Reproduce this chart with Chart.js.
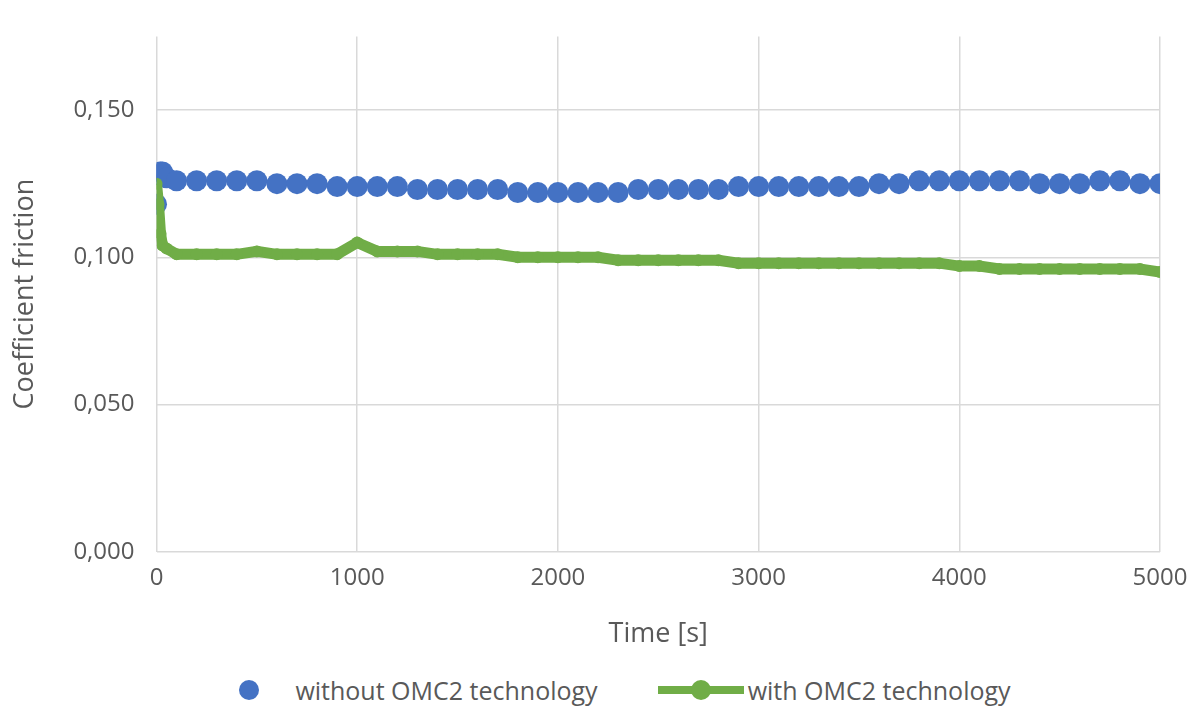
<!DOCTYPE html>
<html><head><meta charset="utf-8">
<script src="https://cdn.jsdelivr.net/npm/chart.js@4"></script>
<style>
body{margin:0;background:#fff;font-family:"Open Sans",sans-serif;color:#595959}
#wrap{width:1200px;height:655px;position:relative}
#legend{position:absolute;top:673px;left:0;width:1200px;display:flex;justify-content:center;font-size:25px;gap:60px;padding-left:20px}
.item{display:flex;align-items:center;gap:14px}
</style></head><body>
<div id="wrap"><canvas id="c"></canvas></div>
<div id="legend">
<div class="item" style="gap:26px"><svg width="40" height="24"><circle cx="20" cy="12" r="10" fill="#4472C4"/></svg>without OMC2 technology</div>
<div class="item" style="gap:4px"><svg width="86" height="24"><line x1="0" y1="12" x2="86" y2="12" stroke="#70AD47" stroke-width="8"/><circle cx="43" cy="12" r="10" fill="#70AD47"/></svg>with OMC2 technology</div>
</div>
<script>
const timesA = [0,10,20,30,50,100,200,300,400,500,600,700,800,900,1000,1100,1200,1300,1400,1500,1600,1700,1800,1900,2000,2100,2200,2300,2400,2500,2600,2700,2800,2900,3000,3100,3200,3300,3400,3500,3600,3700,3800,3900,4000,4100,4200,4300,4400,4500,4600,4700,4800,4900,5000];
const without = [0.118,0.128,0.129,0.129,0.127,0.126,0.126,0.126,0.126,0.126,0.125,0.125,0.125,0.124,0.124,0.124,0.124,0.123,0.123,0.123,0.123,0.123,0.122,0.122,0.122,0.122,0.122,0.122,0.123,0.123,0.123,0.123,0.123,0.124,0.124,0.124,0.124,0.124,0.124,0.124,0.125,0.125,0.126,0.126,0.126,0.126,0.126,0.126,0.125,0.125,0.125,0.126,0.126,0.125,0.125];
const withOmc = [0.125,0.118,0.108,0.104,0.103,0.101,0.101,0.101,0.101,0.102,0.101,0.101,0.101,0.101,0.105,0.102,0.102,0.102,0.101,0.101,0.101,0.101,0.100,0.100,0.100,0.100,0.100,0.099,0.099,0.099,0.099,0.099,0.099,0.098,0.098,0.098,0.098,0.098,0.098,0.098,0.098,0.098,0.098,0.098,0.097,0.097,0.096,0.096,0.096,0.096,0.096,0.096,0.096,0.096,0.095];
const yTicks = [0,0.05,0.1,0.15];

new Chart(document.getElementById('c'), {
  type: 'scatter',
  data: { datasets: [
    { label:'with OMC2 technology', data: timesA.map((t,i)=>({x:t,y:withOmc[i]})), showLine:true,
      borderColor:'#70AD47', backgroundColor:'#70AD47', borderWidth:11, pointRadius:6, pointBorderWidth:0 },
    { label:'without OMC2 technology', data: timesA.map((t,i)=>({x:t,y:without[i]})),
      backgroundColor:'#4472C4', borderColor:'#4472C4', pointRadius:10.5, pointBorderWidth:0 }
  ]},
  options: {
    responsive:true, maintainAspectRatio:false, animation:false,
    layout:{padding:{top:-20,right:40,left:5}},
    plugins:{legend:{display:false},tooltip:{enabled:false}},
    scales:{
      x:{type:'linear',min:0,max:5000,
        ticks:{stepSize:1000,padding:12,color:'#595959',font:{family:'Open Sans',size:24},callback:v=>String(v)},
        grid:{color:'#d9d9d9',lineWidth:1.5,drawTicks:false},border:{color:'#d9d9d9'},
        title:{display:true,text:'Time [s]',color:'#595959',font:{family:'Open Sans',size:27},padding:{top:14}}},
      y:{min:0,max:0.175,
        afterBuildTicks:a=>{a.ticks=yTicks.map(v=>({value:v}));},
        ticks:{color:'#595959',padding:22,font:{family:'Open Sans',size:24},callback:v=>v.toFixed(3).replace('.',',')},
        grid:{color:'#d9d9d9',lineWidth:1.5,drawTicks:false},border:{display:false},
        title:{display:true,text:'Coefficient friction',color:'#595959',font:{family:'Open Sans',size:27},padding:{bottom:10}}}
    }
  }
});
</script></body></html>
